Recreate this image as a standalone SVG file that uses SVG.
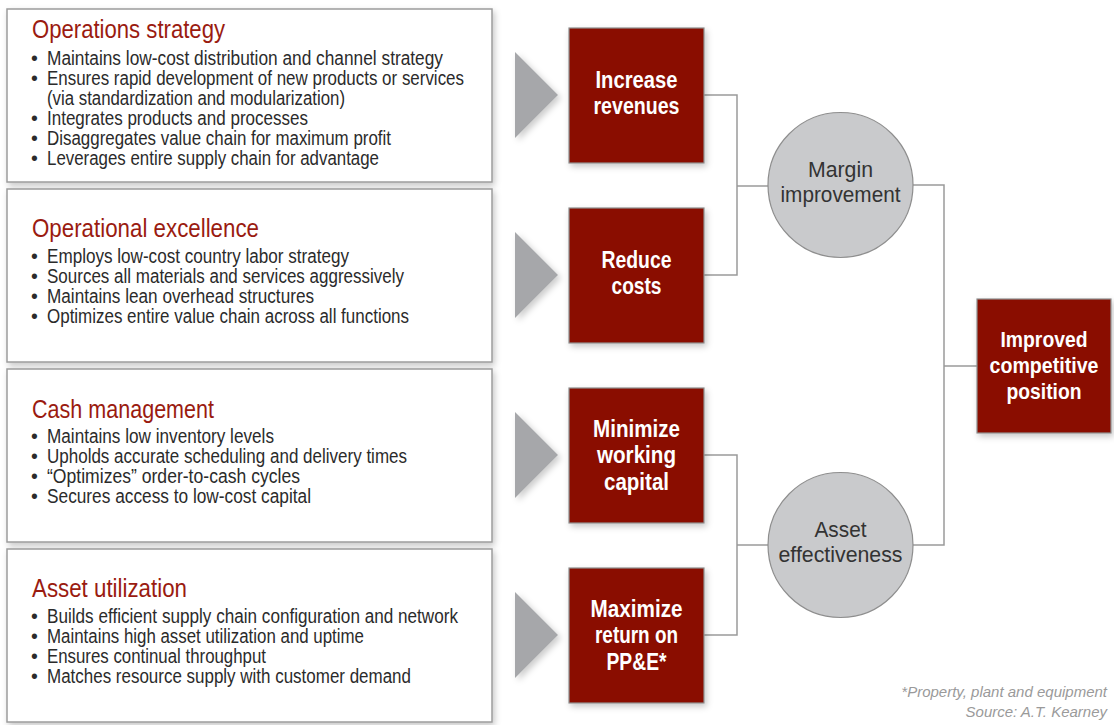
<svg xmlns="http://www.w3.org/2000/svg" width="1114" height="725" viewBox="0 0 1114 725">
  <defs>
    <filter id="shadow" x="-10%" y="-10%" width="125%" height="125%">
      <feDropShadow dx="2" dy="3" stdDeviation="3" flood-color="#000" flood-opacity="0.22"/>
    </filter>
    <filter id="softShadow" x="-20%" y="-20%" width="150%" height="150%">
      <feDropShadow dx="3" dy="3" stdDeviation="3" flood-color="#000" flood-opacity="0.2"/>
    </filter>
  </defs>
  <style>
    .panel { fill: #ffffff; stroke: #9c9c9c; stroke-width: 1.5; }
    .title { font-family: "Liberation Sans Narrow", "Liberation Sans", sans-serif; font-size: 25px; fill: #9a1b10; }
    .body { font-family: "Liberation Sans Narrow", "Liberation Sans", sans-serif; font-size: 19.5px; fill: #2b2b2b; }
    .arrow { fill: #a6a7aa; }
    .goal { fill: #8a0f05; stroke: #8e8e8e; stroke-width: 1.2; }
    .goalText { font-family: "Liberation Sans Narrow", "Liberation Sans", sans-serif; font-weight: bold; font-size: 23px; fill: #ffffff; text-anchor: middle; }
    .finalText { font-size: 22px; }
    .hub { fill: #c9cacc; stroke: #8e8e8e; stroke-width: 1.2; }
    .hubText { font-family: "Liberation Sans Narrow", "Liberation Sans", sans-serif; font-size: 22.5px; fill: #333333; text-anchor: middle; }
    .link { fill: none; stroke: #9a9a9a; stroke-width: 1.5; }
    .note { font-family: "Liberation Sans Narrow", "Liberation Sans", sans-serif; font-style: italic; font-size: 15px; fill: #9a9a9a; text-anchor: end; }
  </style>

  <rect width="1114" height="725" fill="#ffffff"/>

  <!-- connectors -->
  <g id="connectors">
    <path class="link" d="M704,95 H737 V275 H704 M737,186 H768"/>
    <path class="link" d="M704,455 H737 V635 H704 M737,545 H768"/>
    <path class="link" d="M913,185 H944 V545 H913 M944,366 H977"/>
  </g>

  <!-- driver panels -->
  <g id="panel-operations-strategy">
    <rect class="panel" x="7" y="9" width="485" height="173" filter="url(#shadow)"/>
    <text class="title" x="32" y="38" textLength="193" lengthAdjust="spacingAndGlyphs">Operations strategy</text>
    <g class="body">
      <text x="31" y="65">•</text><text x="47" y="65" textLength="396" lengthAdjust="spacingAndGlyphs">Maintains low-cost distribution and channel strategy</text>
      <text x="31" y="85">•</text><text x="47" y="85" textLength="417" lengthAdjust="spacingAndGlyphs">Ensures rapid development of new products or services</text>
      <text x="47" y="105" textLength="298" lengthAdjust="spacingAndGlyphs">(via standardization and modularization)</text>
      <text x="31" y="125">•</text><text x="47" y="125" textLength="261" lengthAdjust="spacingAndGlyphs">Integrates products and processes</text>
      <text x="31" y="145">•</text><text x="47" y="145" textLength="344" lengthAdjust="spacingAndGlyphs">Disaggregates value chain for maximum profit</text>
      <text x="31" y="165">•</text><text x="47" y="165" textLength="332" lengthAdjust="spacingAndGlyphs">Leverages entire supply chain for advantage</text>
    </g>
  </g>

  <g id="panel-operational-excellence">
    <rect class="panel" x="7" y="189" width="485" height="173" filter="url(#shadow)"/>
    <text class="title" x="32" y="237" textLength="227" lengthAdjust="spacingAndGlyphs">Operational excellence</text>
    <g class="body">
      <text x="31" y="263">•</text><text x="47" y="263" textLength="302" lengthAdjust="spacingAndGlyphs">Employs low-cost country labor strategy</text>
      <text x="31" y="283">•</text><text x="47" y="283" textLength="357" lengthAdjust="spacingAndGlyphs">Sources all materials and services aggressively</text>
      <text x="31" y="303">•</text><text x="47" y="303" textLength="267" lengthAdjust="spacingAndGlyphs">Maintains lean overhead structures</text>
      <text x="31" y="323">•</text><text x="47" y="323" textLength="362" lengthAdjust="spacingAndGlyphs">Optimizes entire value chain across all functions</text>
    </g>
  </g>

  <g id="panel-cash-management">
    <rect class="panel" x="7" y="369" width="485" height="173" filter="url(#shadow)"/>
    <text class="title" x="32" y="418" textLength="182" lengthAdjust="spacingAndGlyphs">Cash management</text>
    <g class="body">
      <text x="31" y="443">•</text><text x="47" y="443" textLength="227" lengthAdjust="spacingAndGlyphs">Maintains low inventory levels</text>
      <text x="31" y="463">•</text><text x="47" y="463" textLength="360" lengthAdjust="spacingAndGlyphs">Upholds accurate scheduling and delivery times</text>
      <text x="31" y="483">•</text><text x="47" y="483" textLength="253" lengthAdjust="spacingAndGlyphs">“Optimizes” order-to-cash cycles</text>
      <text x="31" y="503">•</text><text x="47" y="503" textLength="264" lengthAdjust="spacingAndGlyphs">Secures access to low-cost capital</text>
    </g>
  </g>

  <g id="panel-asset-utilization">
    <rect class="panel" x="7" y="549" width="485" height="173" filter="url(#shadow)"/>
    <text class="title" x="32" y="597" textLength="155" lengthAdjust="spacingAndGlyphs">Asset utilization</text>
    <g class="body">
      <text x="31" y="623">•</text><text x="47" y="623" textLength="411" lengthAdjust="spacingAndGlyphs">Builds efficient supply chain configuration and network</text>
      <text x="31" y="643">•</text><text x="47" y="643" textLength="317" lengthAdjust="spacingAndGlyphs">Maintains high asset utilization and uptime</text>
      <text x="31" y="663">•</text><text x="47" y="663" textLength="219" lengthAdjust="spacingAndGlyphs">Ensures continual throughput</text>
      <text x="31" y="683">•</text><text x="47" y="683" textLength="364" lengthAdjust="spacingAndGlyphs">Matches resource supply with customer demand</text>
    </g>
  </g>

  <!-- pointers -->
  <g id="pointers" filter="url(#softShadow)">
    <polygon class="arrow" points="515,52 558,95 515,138"/>
    <polygon class="arrow" points="515,232 558,275 515,318"/>
    <polygon class="arrow" points="515,412 558,455 515,498"/>
    <polygon class="arrow" points="515,592 558,635 515,678"/>
  </g>

  <!-- objectives -->
  <g id="goal-increase-revenues">
    <rect class="goal" x="569" y="28" width="135" height="135" filter="url(#shadow)"/>
    <text class="goalText" x="636.5" y="88" textLength="82" lengthAdjust="spacingAndGlyphs">Increase</text>
    <text class="goalText" x="636.5" y="114" textLength="86" lengthAdjust="spacingAndGlyphs">revenues</text>
  </g>
  <g id="goal-reduce-costs">
    <rect class="goal" x="569" y="208" width="135" height="135" filter="url(#shadow)"/>
    <text class="goalText" x="636.5" y="268" textLength="70" lengthAdjust="spacingAndGlyphs">Reduce</text>
    <text class="goalText" x="636.5" y="294" textLength="50" lengthAdjust="spacingAndGlyphs">costs</text>
  </g>
  <g id="goal-minimize-working-capital">
    <rect class="goal" x="569" y="388" width="135" height="135" filter="url(#shadow)"/>
    <text class="goalText" x="636.5" y="437" textLength="87" lengthAdjust="spacingAndGlyphs">Minimize</text>
    <text class="goalText" x="636.5" y="463" textLength="79" lengthAdjust="spacingAndGlyphs">working</text>
    <text class="goalText" x="636.5" y="490" textLength="65" lengthAdjust="spacingAndGlyphs">capital</text>
  </g>
  <g id="goal-maximize-return">
    <rect class="goal" x="569" y="568" width="135" height="135" filter="url(#shadow)"/>
    <text class="goalText" x="636.5" y="617" textLength="92" lengthAdjust="spacingAndGlyphs">Maximize</text>
    <text class="goalText" x="636.5" y="643" textLength="83" lengthAdjust="spacingAndGlyphs">return on</text>
    <text class="goalText" x="636.5" y="670" textLength="60" lengthAdjust="spacingAndGlyphs">PP&amp;E*</text>
  </g>

  <!-- intermediate outcomes -->
  <g id="hub-margin-improvement">
    <circle class="hub" cx="840.5" cy="185" r="72.5"/>
    <text class="hubText" x="840.5" y="177" textLength="65" lengthAdjust="spacingAndGlyphs">Margin</text>
    <text class="hubText" x="840.5" y="202" textLength="120" lengthAdjust="spacingAndGlyphs">improvement</text>
  </g>
  <g id="hub-asset-effectiveness">
    <circle class="hub" cx="840.5" cy="545" r="72.5"/>
    <text class="hubText" x="840.5" y="537" textLength="52" lengthAdjust="spacingAndGlyphs">Asset</text>
    <text class="hubText" x="840.5" y="562" textLength="124" lengthAdjust="spacingAndGlyphs">effectiveness</text>
  </g>

  <!-- final outcome -->
  <g id="goal-improved-competitive-position">
    <rect class="goal" x="977" y="299" width="134" height="134" filter="url(#shadow)"/>
    <text class="goalText finalText" x="1044" y="347" textLength="87" lengthAdjust="spacingAndGlyphs">Improved</text>
    <text class="goalText finalText" x="1044" y="373" textLength="109" lengthAdjust="spacingAndGlyphs">competitive</text>
    <text class="goalText finalText" x="1044" y="399" textLength="75" lengthAdjust="spacingAndGlyphs">position</text>
  </g>

  <!-- footnotes -->
  <g id="footnotes">
    <text class="note" x="1107" y="697">*Property, plant and equipment</text>
    <text class="note" x="1107" y="717">Source: A.T. Kearney</text>
  </g>
</svg>
